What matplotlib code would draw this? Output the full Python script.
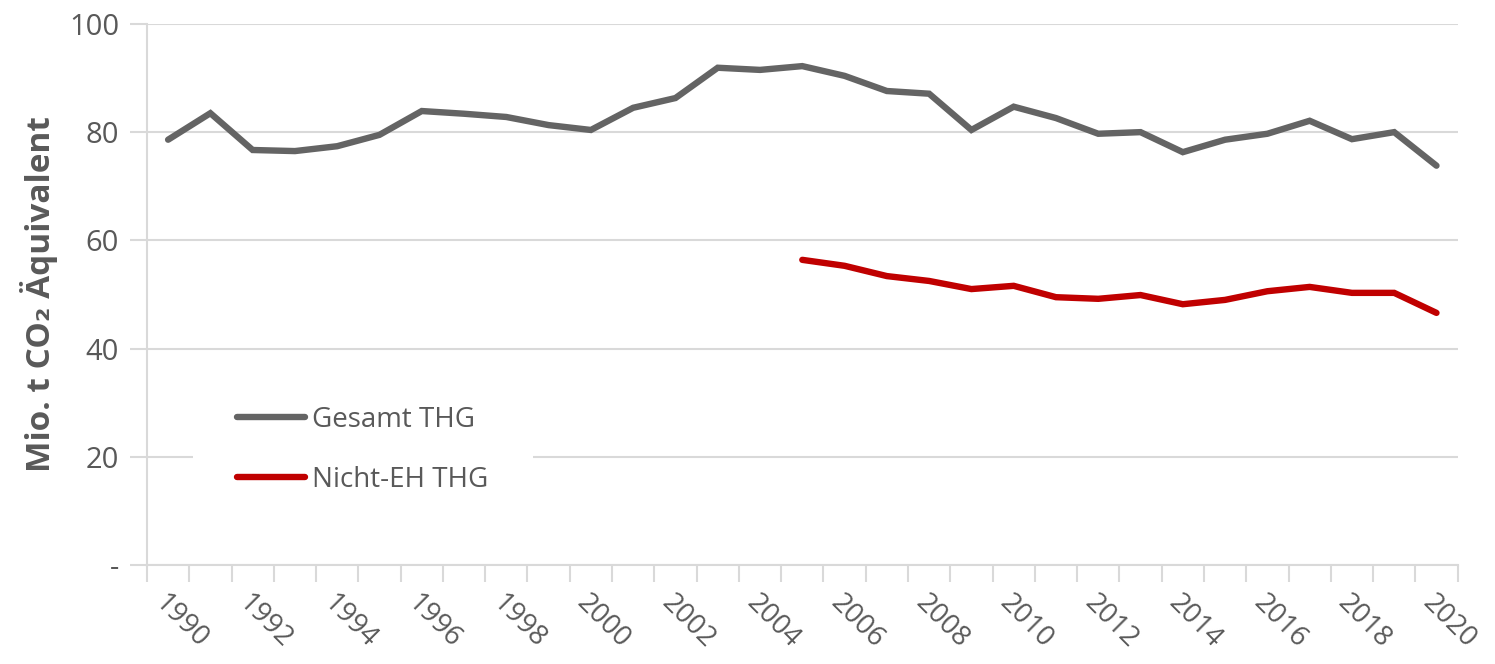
"""Treibhausgasemissionen 1990-2020, Gesamt und Nicht-EH."""

import matplotlib
import matplotlib.pyplot as plt
import numpy as np

matplotlib.use("Agg")

years = list(range(1990, 2021))
gesamt = [78.6, 83.5, 76.7, 76.5, 77.4, 79.5, 83.9, 83.4, 82.8, 81.3,
          80.4, 84.5, 86.3, 91.9, 91.5, 92.2, 90.4, 87.6, 87.1, 80.4,
          84.7, 82.6, 79.7, 80.0, 76.3, 78.6, 79.7, 82.1, 78.7, 80.0, 73.8]
nicht_eh_years = list(range(2005, 2021))
nicht_eh = [56.4, 55.3, 53.4, 52.5, 51.0, 51.6, 49.5, 49.2, 49.9, 48.2,
            49.0, 50.6, 51.4, 50.3, 50.3, 46.6]
y_ticks = [0, 20, 40, 60, 80, 100]
y_labels = ["-", "20", "40", "60", "80", "100"]

TEXT = "#595959"
GRID = "#d9d9d9"

plt.rcParams["font.family"] = ["Open Sans", "DejaVu Sans"]

fig = plt.figure(figsize=(14.95, 6.64), dpi=100)
ax = fig.add_axes([0.0983, 0.149, 0.8767, 0.815])

x_all = np.arange(len(years))
x_eh = np.array([years.index(y) for y in nicht_eh_years])

ax.plot(x_all, gesamt, color="#646464", lw=4.6, solid_capstyle="round",
        solid_joinstyle="miter", label="Gesamt THG", zorder=3)
ax.plot(x_eh, nicht_eh, color="#c00000", lw=4.6, solid_capstyle="round",
        solid_joinstyle="miter", label="Nicht-EH THG", zorder=3)

ax.set_xlim(-0.5, len(years) - 0.5)
ax.set_ylim(0, 100)

# tick marks on category boundaries, labels every second year
ax.set_xticks(np.arange(-0.5, len(years), 1.0))
ax.set_xticklabels([])
ax.tick_params(axis="x", which="major", length=12, width=1.5, color=GRID)
label_pos = [i for i, y in enumerate(years) if y % 2 == 0]
ax.set_xticks(label_pos, minor=True)
ax.set_xticklabels([str(years[i]) for i in label_pos], minor=True,
                   rotation=-45, ha="left", va="top", rotation_mode="anchor",
                   fontsize=20, color=TEXT)
ax.tick_params(axis="x", which="minor", length=0, pad=17)

ax.set_yticks(y_ticks)
ax.set_yticklabels(y_labels, fontsize=21, color=TEXT)
ax.tick_params(axis="y", length=12, width=1.5, color=GRID, pad=8)
ax.yaxis.grid(True, color=GRID, lw=1.5)
ax.set_axisbelow(True)

for side in ["top", "right"]:
    ax.spines[side].set_visible(False)
for side in ["left", "bottom"]:
    ax.spines[side].set_color(GRID)
    ax.spines[side].set_linewidth(1.5)

ax.set_ylabel("Mio. t CO₂ Äquivalent", fontsize=24, fontweight="bold",
              color=TEXT, labelpad=8)

leg = ax.legend(loc="center left", bbox_to_anchor=(0.035, 0.213),
                fontsize=20, frameon=True, facecolor="white",
                edgecolor="none", framealpha=1, fancybox=False,
                handlelength=2.45, handletextpad=0.25, labelspacing=1.15,
                borderpad=1.6, borderaxespad=0)
leg.get_frame().set_linewidth(0)
for t in leg.get_texts():
    t.set_color(TEXT)
leg.set_zorder(2)

plt.savefig("out.png", dpi=100)
plt.close(fig)
